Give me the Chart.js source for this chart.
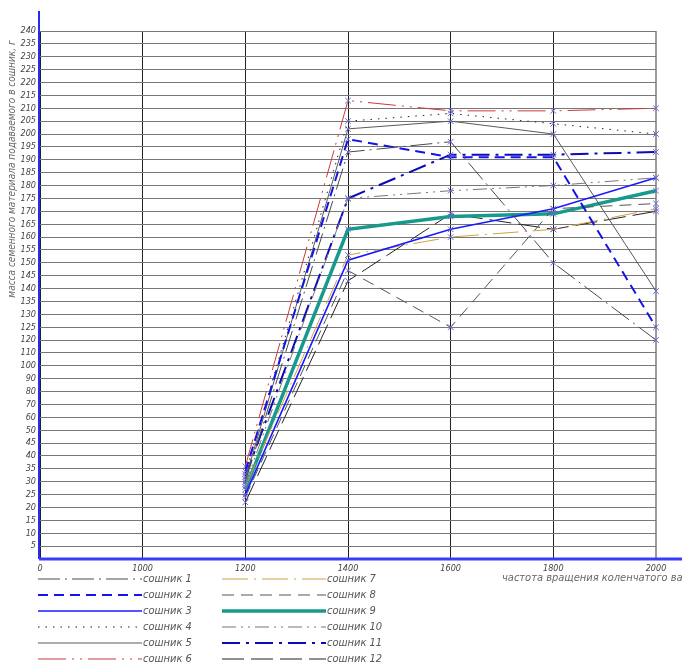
<!DOCTYPE html>
<html>
<head>
<meta charset="utf-8">
<script src="https://cdn.jsdelivr.net/npm/chart.js@4.4.1/dist/chart.umd.min.js"></script>
<style>
  html, body { margin: 0; padding: 0; background: #fff; }
  #wrap { width: 682px; height: 664px; }
</style>
</head>
<body>
<div id="wrap"><canvas id="chart" width="682" height="664"></canvas></div>
<script>
// #region Data
// ---------------------------------------
const xLabels = ["0", "1000", "1200", "1400", "1600", "1800", "2000"];

// tick labels as printed on the drawing (the scale is not uniform: 10-step between 50 and 120)
const yTickLabels = [
  "", "5", "10", "15", "20", "25", "30", "35", "40", "45", "50",
  "60", "70", "80", "90", "100", "110", "120",
  "125", "130", "135", "140", "145", "150", "155", "160", "165", "170", "175", "180",
  "185", "190", "195", "200", "205", "210", "215", "220", "225", "230", "235", "240"
];

// values in grams, at 1200 / 1400 / 1600 / 1800 / 2000
const soshnik1 = [30, 193, 197, 150, 120];
const soshnik2 = [34, 198, 191, 191, 125];
const soshnik3 = [25, 151, 163, 171, 183];
const soshnik4 = [33, 205, 208, 204, 200];
const soshnik5 = [31, 202, 205, 200, 139];
const soshnik6 = [36, 213, 209, 209, 210];
const soshnik7 = [28, 153, 160, 163, 171];
const soshnik8 = [24, 147, 125, 171, 173];
const soshnik9 = [27, 163, 168, 169, 178];
const soshnik10 = [29, 175, 178, 180, 183];
const soshnik11 = [32, 175, 192, 192, 193];
const soshnik12 = [22, 143, 169, 163, 170];

const seriesNames = [
  "сошник 1", "сошник 2", "сошник 3", "сошник 4", "сошник 5", "сошник 6",
  "сошник 7", "сошник 8", "сошник 9", "сошник 10", "сошник 11", "сошник 12"
];
// ---------------------------------------
// #endregion

// value (g) -> position on the drawn grid, following the printed tick labels
const toPos = (v) => {
  if (v <= 50) return v / 5;
  if (v <= 120) return 10 + (v - 50) / 10;
  return 17 + (v - 120) / 5;
};
const toSeries = (arr) => [null, null].concat(arr.map(toPos));

const styles = [
  { color: "#4a4a4a", width: 1, dash: [22, 5, 2, 5] },
  { color: "#1414e6", width: 2, dash: [10, 6] },
  { color: "#1a1aff", width: 1.6, dash: [] },
  { color: "#222222", width: 1, dash: [1.5, 6] },
  { color: "#5a5a5a", width: 1, dash: [] },
  { color: "#cc3a3a", width: 1, dash: [28, 6, 2, 6, 2, 6] },
  { color: "#d2a040", width: 1, dash: [26, 6, 2, 6] },
  { color: "#555555", width: 1, dash: [12, 7] },
  { color: "#17998c", width: 3.5, dash: [] },
  { color: "#777777", width: 1, dash: [14, 5, 2, 5, 2, 5] },
  { color: "#0a0ab8", width: 2, dash: [18, 6, 3, 6] },
  { color: "#222222", width: 1, dash: [22, 7] }
];

const allSeries = [soshnik1, soshnik2, soshnik3, soshnik4, soshnik5, soshnik6,
  soshnik7, soshnik8, soshnik9, soshnik10, soshnik11, soshnik12];

const datasets = allSeries.map((s, i) => ({
  label: seriesNames[i],
  data: toSeries(s),
  borderColor: styles[i].color,
  borderWidth: styles[i].width,
  borderDash: styles[i].dash,
  fill: false,
  tension: 0,
  pointStyle: "crossRot",
  pointRadius: 4,
  pointBorderColor: "#6a6ad8",
  pointBackgroundColor: "#6a6ad8",
  pointBorderWidth: 1
}));

const italicFont = "'Liberation Sans Narrow', 'DejaVu Sans Condensed', 'Liberation Sans', sans-serif";

const drawingPlugin = {
  id: "drawing",
  afterDraw(chart) {
    const { ctx, chartArea } = chart;
    const w = chart.width;
    ctx.save();
    // blue axes extended like on the drawing
    ctx.strokeStyle = "#2b2bf0";
    ctx.lineWidth = 2;
    ctx.beginPath();
    ctx.moveTo(chartArea.left - 1, chartArea.top - 20);
    ctx.lineTo(chartArea.left - 1, chartArea.bottom);
    ctx.stroke();
    ctx.strokeStyle = "#3a3aff";
    ctx.lineWidth = 3;
    ctx.beginPath();
    ctx.moveTo(chartArea.left - 1, chartArea.bottom);
    ctx.lineTo(w, chartArea.bottom);
    ctx.stroke();

    // axis titles
    ctx.fillStyle = "#666";
    ctx.font = "italic 11px " + italicFont;
    ctx.textBaseline = "middle";
    ctx.textAlign = "left";
    ctx.fillText("частота вращения коленчатого вала, мин⁻¹", chartArea.right - 154, chartArea.bottom + 19);

    ctx.save();
    ctx.translate(12, chartArea.top + 138);
    ctx.rotate(-Math.PI / 2);
    ctx.textAlign = "center";
    ctx.font = "italic 10px " + italicFont;
    ctx.fillText("масса семенного материала подаваемого в сошник, г", 0, 0);
    ctx.restore();

    // legend, two columns of six
    chart.data.datasets.forEach((ds, i) => {
      const col = Math.floor(i / 6);
      const row = i % 6;
      const x0 = chartArea.left - 2 + col * 184;
      const y = chartArea.bottom + 20 + row * 16;
      ctx.strokeStyle = ds.borderColor;
      ctx.lineWidth = ds.borderWidth;
      ctx.setLineDash(ds.borderDash);
      ctx.beginPath();
      ctx.moveTo(x0, y);
      ctx.lineTo(x0 + 104, y);
      ctx.stroke();
      ctx.setLineDash([]);
      ctx.fillStyle = "#555";
      ctx.font = "italic 11px " + italicFont;
      ctx.textAlign = "left";
      ctx.fillText(ds.label, x0 + 105, y);
    });
    ctx.restore();
  }
};

new Chart(document.getElementById("chart"), {
  type: "line",
  data: { labels: xLabels, datasets: datasets },
  plugins: [drawingPlugin],
  options: {
    responsive: false,
    animation: false,
    spanGaps: false,
    layout: { padding: { top: 31, right: 26, left: 0, bottom: 0 } },
    plugins: { legend: { display: false }, tooltip: { enabled: false } },
    scales: {
      x: {
        type: "category",
        offset: false,
        grid: {
          drawTicks: false,
          color: (c) => (c.index === xLabels.length - 1 ? "#9a9a9a" : "#222"),
          lineWidth: (c) => (c.index === xLabels.length - 1 ? 2 : 1)
        },
        border: { display: false },
        ticks: {
          padding: 4,
          maxRotation: 0,
          autoSkip: false,
          color: "#444",
          font: { family: italicFont, style: "italic", size: 9 }
        },
        afterFit: (scale) => { scale.height = 105; }
      },
      y: {
        type: "linear",
        min: 0,
        max: yTickLabels.length - 1,
        grid: { drawTicks: false, color: "#777", lineWidth: 1 },
        border: { display: false },
        ticks: {
          stepSize: 1,
          autoSkip: false,
          padding: 4,
          color: "#444",
          font: { family: italicFont, style: "italic", size: 9 },
          callback: (v) => yTickLabels[v]
        },
        afterFit: (scale) => { scale.width = 40; }
      }
    }
  }
});
</script>
</body>
</html>
